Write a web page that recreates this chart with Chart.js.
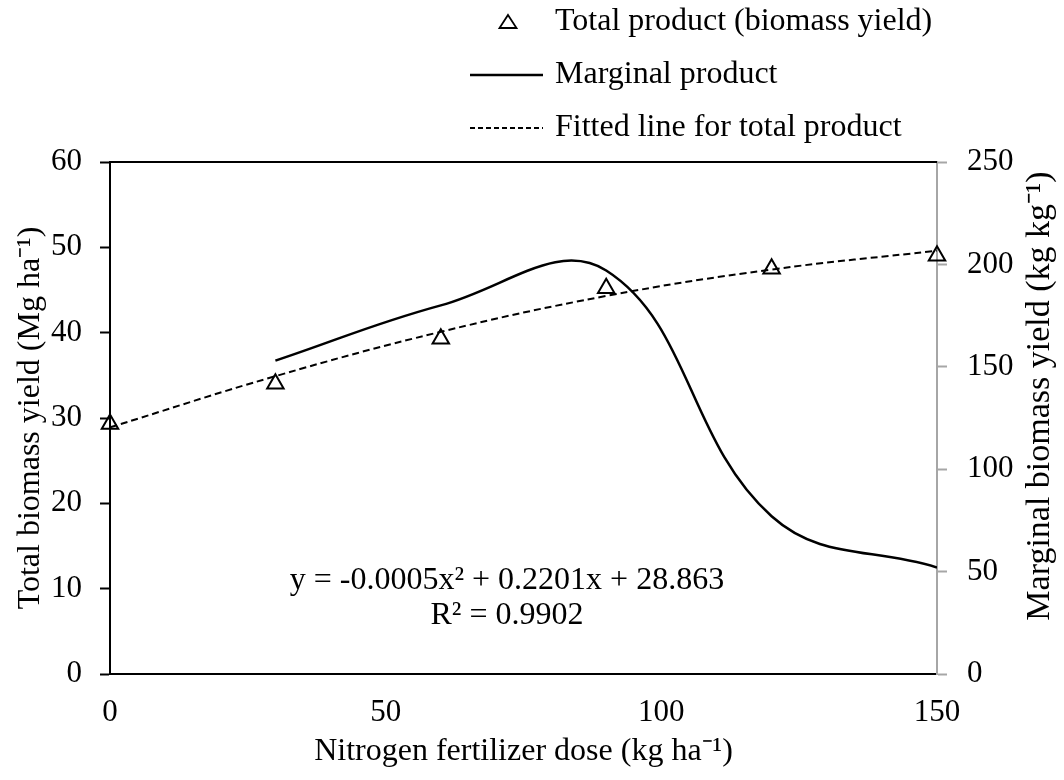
<!DOCTYPE html>
<html>
<head>
<title>Nitrogen response</title>
<script src="https://cdn.jsdelivr.net/npm/chart.js@4.4.0/dist/chart.umd.min.js"></script>
<style>
  body {margin: 0; background: #fff;}
  #box {width: 1064px; height: 780px;}
</style>
</head>
<body>
<div id="box"><canvas id="nChart"></canvas></div>
<script>

// values
var nDose = [0, 30, 60, 90, 120, 150];
var totalProduct = [29.3, 34.0, 39.3, 45.2, 47.5, 49.0];
var fittedTotal = [28.9, 34.9, 40.1, 44.3, 47.4, 49.6];
var marginalDose = [30, 60, 90, 120, 150];
var marginalProduct = [153, 180, 197, 77, 52];

var legendLabels = ['Total product (biomass yield)', 'Marginal product', 'Fitted line for total product'];
var equationLines = ['y = -0.0005x\u00b2 + 0.2201x + 28.863', 'R\u00b2 = 0.9902'];

var serif = "'Liberation Serif', 'Times New Roman', serif";
var axisGrey = '#a6a6a6';

function pts(xs, ys) {
  return xs.map(function(x, i) { return {x: x, y: ys[i]}; });
}

// top frame line, equation, right title, legend
var extras = {
  id: 'extras',
  afterDraw: function(chart) {
    var ctx = chart.ctx, a = chart.chartArea;
    var sx = chart.scales.x, sy = chart.scales.y;
    ctx.save();
    ctx.strokeStyle = '#000';
    ctx.lineWidth = 2;
    ctx.beginPath();
    ctx.moveTo(a.left - 1, a.top);
    ctx.lineTo(a.right, a.top);
    ctx.stroke();

    ctx.fillStyle = '#000';
    ctx.font = '32px ' + serif;
    ctx.textAlign = 'center';
    ctx.textBaseline = 'middle';
    ctx.fillText(equationLines[0], sx.getPixelForValue(72), sy.getPixelForValue(11));
    ctx.fillText(equationLines[1], sx.getPixelForValue(72), sy.getPixelForValue(6.9));

    ctx.save();
    ctx.font = '34px ' + serif;
    ctx.translate(1040, 396);
    ctx.rotate(-Math.PI / 2);
    ctx.fillText('Marginal biomass yield (kg kg\u207b\u00b9)', 0, 0);
    ctx.restore();

    // legend
    var tx = 555, rows = [22, 75, 128];
    ctx.textAlign = 'left';
    ctx.lineWidth = 1.8;
    ctx.beginPath();
    ctx.moveTo(508, rows[0] - 7);
    ctx.lineTo(516.5, rows[0] + 6);
    ctx.lineTo(499.5, rows[0] + 6);
    ctx.closePath();
    ctx.stroke();

    ctx.lineWidth = 2.5;
    ctx.beginPath();
    ctx.moveTo(470, rows[1]);
    ctx.lineTo(543, rows[1]);
    ctx.stroke();

    ctx.lineWidth = 2;
    ctx.setLineDash([5, 3]);
    ctx.beginPath();
    ctx.moveTo(470, rows[2]);
    ctx.lineTo(543, rows[2]);
    ctx.stroke();
    ctx.setLineDash([]);

    legendLabels.forEach(function(t, i) {
      ctx.fillText(t, tx, rows[i]);
    });
    ctx.restore();
  }
};

new Chart(document.getElementById('nChart'), {
  type: 'line',
  data: {
    datasets: [{
      label: legendLabels[0],
      data: pts(nDose, totalProduct),
      yAxisID: 'y',
      showLine: false,
      clip: false,
      pointStyle: 'triangle',
      pointRadius: 9.5,
      pointBorderWidth: 2,
      pointBorderColor: '#000',
      pointBackgroundColor: 'rgba(0,0,0,0)'
    }, {
      label: legendLabels[1],
      data: pts(marginalDose, marginalProduct),
      yAxisID: 'y1',
      borderColor: '#000',
      borderWidth: 2.5,
      tension: 0.4,
      pointRadius: 0,
      fill: false
    }, {
      label: legendLabels[2],
      data: pts(nDose, fittedTotal),
      yAxisID: 'y',
      borderColor: '#000',
      borderWidth: 2,
      borderDash: [7, 4],
      tension: 0.4,
      pointRadius: 0,
      fill: false
    }]
  },
  options: {
    responsive: true,
    maintainAspectRatio: false,
    animation: false,
    layout: {padding: {top: 162, left: 0, right: 0, bottom: 0}},
    plugins: {legend: {display: false}, tooltip: {enabled: false}},
    scales: {
      x: {
        type: 'linear', min: 0, max: 150,
        ticks: {stepSize: 50, color: '#000', padding: 20, font: {family: serif, size: 31}},
        grid: {display: false, drawTicks: false},
        border: {color: '#000', width: 2},
        title: {display: true, text: 'Nitrogen fertilizer dose (kg ha\u207b\u00b9)', color: '#000',
                font: {family: serif, size: 32}, padding: {top: 0, bottom: 9}},
        afterFit: function(s) { s.height = 106; }
      },
      y: {
        position: 'left', min: 0, max: 60,
        ticks: {stepSize: 10, color: '#000', padding: 18, font: {family: serif, size: 31}},
        grid: {drawOnChartArea: false, color: '#000', tickLength: 10, tickWidth: 2},
        border: {color: '#000', width: 2},
        title: {display: true, text: 'Total biomass yield (Mg ha\u207b\u00b9)', color: '#000',
                font: {family: serif, size: 32}, padding: {top: 11, bottom: 0}},
        afterFit: function(s) { s.width = 110; }
      },
      y1: {
        position: 'right', min: 0, max: 250,
        ticks: {stepSize: 50, color: '#000', padding: 20, font: {family: serif, size: 31}},
        grid: {drawOnChartArea: false, color: axisGrey, tickLength: 10, tickWidth: 2},
        border: {color: axisGrey, width: 2},
        afterFit: function(s) { s.width = 127; }
      }
    }
  },
  plugins: [extras]
});

</script>
</body>
</html>
